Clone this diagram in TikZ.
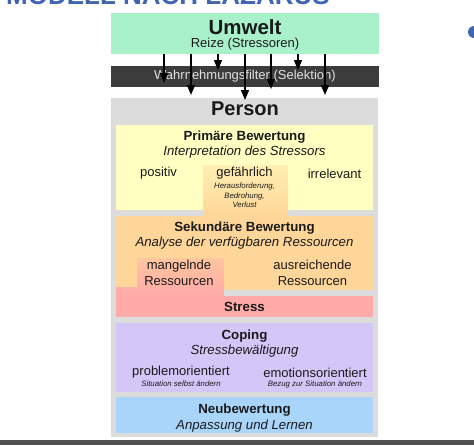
\documentclass[tikz,border=0pt]{standalone}
\usepackage{fontspec}
\setmainfont{Liberation Sans}
\usetikzlibrary{arrows.meta, positioning, calc}
\definecolor{umweltgreen}{HTML}{A9F1CB}
\definecolor{filtergray}{HTML}{3C3C3C}
\definecolor{filtertext}{HTML}{E2E2E2}
\definecolor{persongray}{HTML}{DCDCDC}
\definecolor{primyellow}{HTML}{FFFFC2}
\definecolor{sekorange}{HTML}{FFD699}
\definecolor{stresspink}{HTML}{FFA9A9}
\definecolor{copingviolet}{HTML}{D5C6F8}
\definecolor{neublue}{HTML}{A9D5FA}
\definecolor{titleblue}{HTML}{4066B2}
\definecolor{txt}{HTML}{1A1A1A}

\begin{document}
\begin{tikzpicture}[
  x=1pt, y=-1pt,
  >={Triangle[length=10pt, width=8pt]},
  reiz/.style={->, line width=1.4pt, black},
  head/.style={font=\fontsize{13.3}{15}\selectfont\bfseries, text=txt, inner sep=0pt},
  sub/.style={font=\fontsize{13.2}{15}\selectfont\itshape, text=txt, inner sep=0pt},
  item/.style={font=\fontsize{13}{16.5}\selectfont, text=txt, inner sep=0pt, align=center},
  tiny/.style={font=\fontsize{7.8}{9.5}\selectfont\itshape, text=txt, inner sep=0pt, align=center},
]

% Frame of the screenshot
\fill[white] (0,0) rectangle (474,445);
\useasboundingbox (0,0) rectangle (474,445);
\begin{scope}
\clip (0,0) rectangle (474,445);
\node[font=\fontsize{26}{26}\selectfont\bfseries, text=titleblue, anchor=base west, inner sep=0pt]
  (title) at (6,4) {MODELL NACH LAZARUS};
\fill[titleblue] (474,32) circle (6);
\end{scope}
\fill[filtergray!90] (0,440) rectangle (474,445);

% ========================================
% Umwelt and filter
% ========================================
\node[fill=umweltgreen, minimum width=268pt, minimum height=41pt, inner sep=0pt]
  (umwelt) at (245,33.5) {};
\node[font=\fontsize{20.5}{22}\selectfont\bfseries, text=txt, inner sep=0pt] (umwelttitle) at (245,27) {Umwelt};
\node[item] (reize) at (245,44) {Reize (Stressoren)};

\node[fill=filtergray, minimum width=268pt, minimum height=21pt, inner sep=0pt]
  (filter) at (245,76.5) {};
\node[font=\fontsize{13}{15}\selectfont, text=filtertext, inner sep=0pt] (filtertxt) at (245,76) {Wahrnehmungsfilter (Selektion)};

% ========================================
% Person
% ========================================
\node[fill=persongray, minimum width=267pt, minimum height=339pt, inner sep=0pt]
  (person) at (244.5,267.5) {};
\node[font=\fontsize{20}{22}\selectfont\bfseries, text=txt, inner sep=0pt] (persontitle) at (245,109) {Person};

% Stimuli through the filter
\foreach \i/\x/\e in {1/164/83, 2/191/95, 3/218/70, 4/245/100, 5/271/89, 6/298/70, 7/325/95} {
  \coordinate (e\i) at (\x,\e);
  \draw[reiz] (umwelt.south -| e\i) -- (e\i);
}

% Stage boxes
\fill[primyellow] (116,125) rectangle (373,210);
\fill[sekorange] (116,216) rectangle (373,290);
\fill[stresspink] (116,296) rectangle (373,317);
\fill[copingviolet] (116,323) rectangle (373,392);
\fill[neublue] (116,397) rectangle (373,433);

% Transitions between the stages
\shade[top color=sekorange!40!primyellow, bottom color=sekorange]
  (203,165) rectangle (288,216);
\shade[top color=stresspink!35!sekorange, bottom color=stresspink]
  (137,258) -- (224,258) -- (224,296) -- (116,296) -- (116,287) -- (137,287) -- cycle;

% Primaere Bewertung
\node[head] (prim) at (244.5,137) {Primäre Bewertung};
\node[sub] (primsub) at (244.5,152.5) {Interpretation des Stressors};
\node[item] (positiv) at (158.5,173.5) {positiv};
\node[item] (gefahr) at (244.5,173.5) {gefährlich};
\node[item] (irrel) at (334.5,173.5) {irrelevant};
\node[tiny] (gefahrsub) at (244.5,195.5) {Herausforderung,\\Bedrohung,\\Verlust};

% Sekundaere Bewertung
\node[head] (sek) at (244.5,228) {Sekundäre Bewertung};
\node[sub] (seksub) at (244.5,243.5) {Analyse der verfügbaren Ressourcen};
\node[item] (mangel) at (179,273) {mangelnde\\Ressourcen};
\node[item] (ausr) at (312.5,273) {ausreichende\\Ressourcen};

% Stress
\node[head] (stress) at (244.5,307) {Stress};

% Coping
\node[head] (coping) at (244.5,336) {Coping};
\node[sub] (copingsub) at (244.5,351) {Stressbewältigung};
\node[item] (problem) at (181,372.5) {problemorientiert};
\node[item] (emotion) at (315,372.5) {emotionsorientiert};
\node[tiny] (problemsub) at (181,384) {Situation selbst ändern};
\node[tiny] (emotionsub) at (315,384) {Bezug zur Situation ändern};

% Neubewertung
\node[head] (neu) at (244.5,410) {Neubewertung};
\node[sub] (neusub) at (244.5,426) {Anpassung und Lernen};

\end{tikzpicture}
\end{document}
